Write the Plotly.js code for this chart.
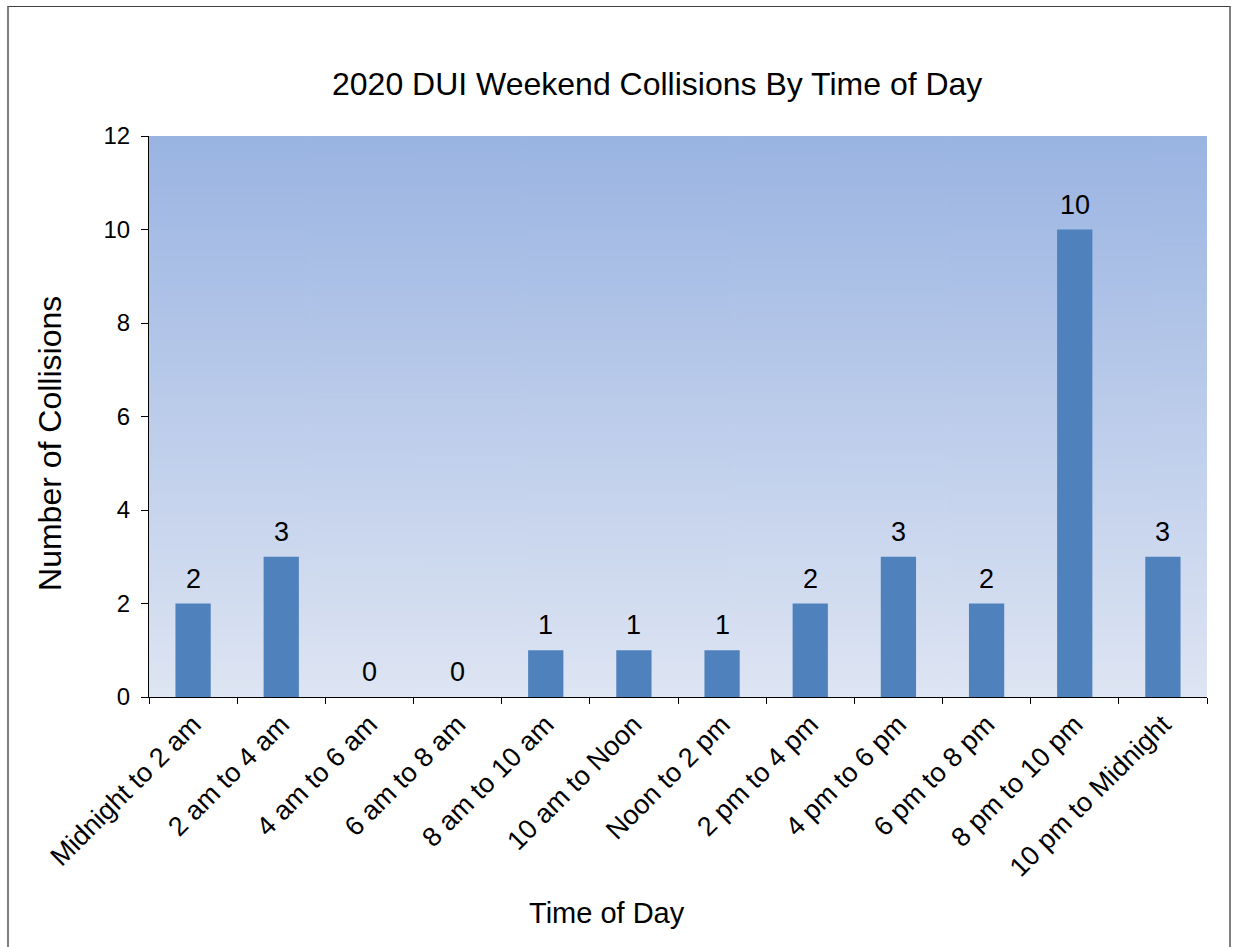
<!DOCTYPE html>
<html>
<head>
<meta charset="utf-8">
<script src="https://cdn.plot.ly/plotly-3.0.1.min.js"></script>
<style>
html,body{margin:0;padding:0;background:#fff;}
#wrap{position:relative;width:1233px;height:947px;overflow:hidden;}
#frame{position:absolute;left:7px;top:6px;width:1224px;height:1000px;border-left:2px solid #808080;border-right:2px solid #808080;border-top:1px solid #404040;box-sizing:border-box;pointer-events:none;z-index:5;}
#chart{position:absolute;left:0;top:0;width:1233px;height:947px;}
</style>
</head>
<body>
<div id="wrap"><div id="chart"></div><div id="frame"></div></div>
<script>
const categories = ["Midnight to 2 am","2 am to 4 am","4 am to 6 am","6 am to 8 am","8 am to 10 am","10 am to Noon","Noon to 2 pm","2 pm to 4 pm","4 pm to 6 pm","6 pm to 8 pm","8 pm to 10 pm","10 pm to Midnight"];
const collisions = [2,3,0,0,1,1,1,2,3,2,10,3];
const yTicks = [0,2,4,6,8,10,12];
const chartTitle = '2020 DUI Weekend Collisions By Time of Day';
const xTitle = 'Time of Day';
const yTitle = 'Number of Collisions';

// gradient background image for plot area
const cv = document.createElement('canvas');
cv.width = 10; cv.height = 400;
const ctx = cv.getContext('2d');
const g = ctx.createLinearGradient(0,0,0,400);
g.addColorStop(0,'#9AB4E2');
g.addColorStop(1,'#DEE5F3');
ctx.fillStyle = g; ctx.fillRect(0,0,10,400);
const bgURL = cv.toDataURL();

const font = "'Liberation Sans', Arial, sans-serif";

const trace = {
  type:'bar',
  x: categories,
  y: collisions,
  marker:{color:'#4F81BD', line:{width:0}},
  hoverinfo:'x+y'
};

const annotations = categories.map((c,i)=>({
  x:c, y:collisions[i], xref:'x', yref:'y',
  text:String(collisions[i]), showarrow:false,
  yanchor:'bottom', yshift:8,
  font:{family:font, size:27, color:'#000'}
}));
annotations.push({
  text:xTitle, xref:'paper', yref:'paper', x:0.4329, y:-0.385,
  xanchor:'center', yanchor:'middle', showarrow:false,
  font:{family:font, size:29, color:'#000'}
});
annotations.push({
  text:yTitle, xref:'paper', yref:'paper', x:-0.0936, y:0.4528,
  xanchor:'center', yanchor:'middle', showarrow:false, textangle:-90,
  font:{family:font, size:32, color:'#000'}
});

const layout = {
  width:1233, height:947,
  margin:{l:149, r:26, t:136, b:250, pad:0},
  paper_bgcolor:'rgba(0,0,0,0)',
  plot_bgcolor:'rgba(0,0,0,0)',
  bargap:0.6,
  showlegend:false,
  title:{text:chartTitle, x:0.533, xanchor:'center', y:0.911, yanchor:'middle',
    font:{family:font, size:32, color:'#000'}},
  xaxis:{
    type:'category',
    tickson:'boundaries',
    ticks:'outside', ticklen:6, tickcolor:'#000', tickwidth:1,
    showline:true, linecolor:'#000', linewidth:1,
    showgrid:false, zeroline:false,
    tickangle:-45,
    tickfont:{family:font, size:27, color:'#000'},
    automargin:false
  },
  yaxis:{
    range:[0,12],
    tickvals:yTicks,
    ticktext:yTicks.map(String),
    ticks:'outside', ticklen:7, tickcolor:'#000', tickwidth:1,
    ticklabelstandoff:6,
    showline:true, linecolor:'#000', linewidth:1,
    showgrid:false, zeroline:false,
    tickfont:{family:font, size:24, color:'#000'},
    automargin:false
  },
  images:[{source:bgURL, xref:'paper', yref:'paper', x:0, y:1, sizex:1, sizey:1, sizing:'stretch', layer:'below'}],
  annotations:annotations
};

Plotly.newPlot('chart',[trace],layout,{displayModeBar:false, staticPlot:true});
</script>
</body>
</html>
